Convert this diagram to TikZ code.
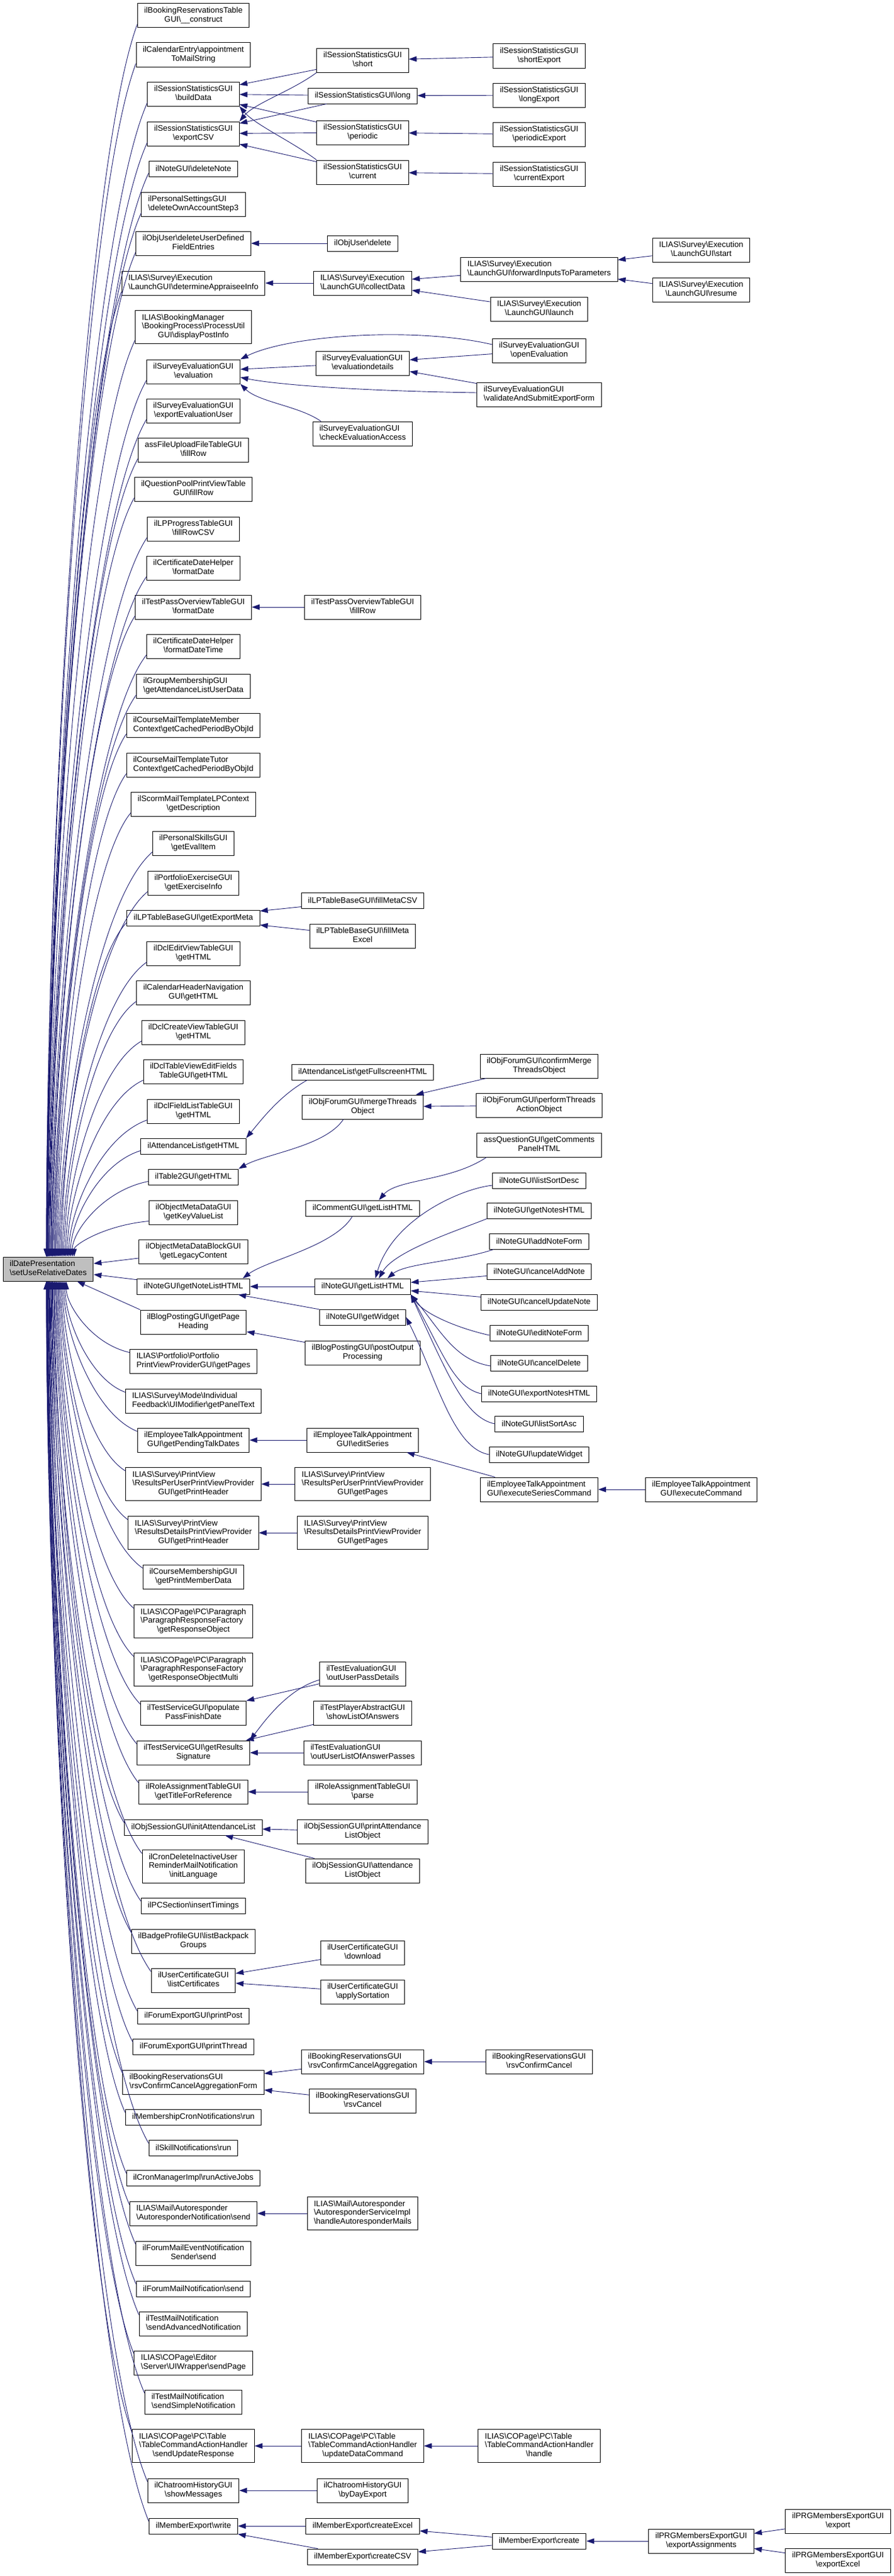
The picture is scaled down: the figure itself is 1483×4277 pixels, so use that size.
\documentclass[tikz,border=0pt]{standalone}
\usepackage{fontspec}
\setmainfont{Liberation Sans}
\usetikzlibrary{arrows.meta,calc}
\definecolor{midnight}{HTML}{191970}
\definecolor{focusgray}{HTML}{BFBFBF}
\newcommand{\bsl}{\textbackslash}
\newcommand{\fnl}[2]{\begin{tabular}{@{}l@{}}#1\\\multicolumn{1}{@{}c@{}}{#2}\end{tabular}}
\begin{document}
\begin{tikzpicture}[x=1pt,y=-1pt,
  fn/.style={draw=black, line width=1pt, fill=white, inner xsep=11pt, inner ysep=5.5pt,
    minimum height=26pt, font=\fontsize{13.3}{14.5}\selectfont},
  call/.style={draw=midnight, line width=0.9pt, -{Triangle[length=13pt,width=9pt]}}]
\fill[white] (0,0) rectangle (1483,4277);
\useasboundingbox (0,0) rectangle (1483,4277);

% the function itself
\node[fn, fill=focusgray] (main) at (80,2107) {\fnl{ilDatePresentation}{\bsl setUseRelativeDates}};

% direct callers
\node[fn] (bookTblConstruct) at (321,26) {\fnl{ilBookingReservationsTable}{GUI\bsl\_\_construct}};
\node[fn] (calApptMail) at (321,91) {\fnl{ilCalendarEntry\bsl appointment}{ToMailString}};
\node[fn] (sessBuild) at (321,156) {\fnl{ilSessionStatisticsGUI}{\bsl buildData}};
\node[fn] (sessExportCsv) at (321,222) {\fnl{ilSessionStatisticsGUI}{\bsl exportCSV}};
\node[fn] (noteDelete) at (321,280) {ilNoteGUI\bsl deleteNote};
\node[fn] (persDelStep3) at (321,339) {\fnl{ilPersonalSettingsGUI}{\bsl deleteOwnAccountStep3}};
\node[fn] (userDelFields) at (321,404) {\fnl{ilObjUser\bsl deleteUserDefined}{FieldEntries}};
\node[fn] (launchAppraisee) at (321,470) {\fnl{ILIAS\bsl Survey\bsl Execution}{\bsl LaunchGUI\bsl determineAppraiseeInfo}};
\node[fn] (bookPostInfo) at (321,543) {\fnl{ILIAS\bsl BookingManager\\\bsl BookingProcess\bsl ProcessUtil}{GUI\bsl displayPostInfo}};
\node[fn] (svyEval) at (321,617) {\fnl{ilSurveyEvaluationGUI}{\bsl evaluation}};
\node[fn] (svyExportUser) at (321,682) {\fnl{ilSurveyEvaluationGUI}{\bsl exportEvaluationUser}};
\node[fn] (assFillRow) at (321,747) {\fnl{assFileUploadFileTableGUI}{\bsl fillRow}};
\node[fn] (qplFillRow) at (321,812) {\fnl{ilQuestionPoolPrintViewTable}{GUI\bsl fillRow}};
\node[fn] (lpFillCsv) at (321,878) {\fnl{ilLPProgressTableGUI}{\bsl fillRowCSV}};
\node[fn] (certFmtDate) at (321,943) {\fnl{ilCertificateDateHelper}{\bsl formatDate}};
\node[fn] (tstFmtDate) at (321,1008) {\fnl{ilTestPassOverviewTableGUI}{\bsl formatDate}};
\node[fn] (certFmtDateTime) at (321,1073) {\fnl{ilCertificateDateHelper}{\bsl formatDateTime}};
\node[fn] (grpAttUser) at (321,1139) {\fnl{ilGroupMembershipGUI}{\bsl getAttendanceListUserData}};
\node[fn] (crsMemberPeriod) at (321,1204) {\fnl{ilCourseMailTemplateMember}{Context\bsl getCachedPeriodByObjId}};
\node[fn] (crsTutorPeriod) at (321,1270) {\fnl{ilCourseMailTemplateTutor}{Context\bsl getCachedPeriodByObjId}};
\node[fn] (scormDescr) at (321,1335) {\fnl{ilScormMailTemplateLPContext}{\bsl getDescription}};
\node[fn] (skillEvalItem) at (321,1400) {\fnl{ilPersonalSkillsGUI}{\bsl getEvalItem}};
\node[fn] (prtfExcInfo) at (321,1466) {\fnl{ilPortfolioExerciseGUI}{\bsl getExerciseInfo}};
\node[fn] (lpExportMeta) at (321,1524) {ilLPTableBaseGUI\bsl getExportMeta};
\node[fn] (dclEditView) at (321,1583) {\fnl{ilDclEditViewTableGUI}{\bsl getHTML}};
\node[fn] (calHeaderNav) at (321,1648) {\fnl{ilCalendarHeaderNavigation}{GUI\bsl getHTML}};
\node[fn] (dclCreateView) at (321,1714) {\fnl{ilDclCreateViewTableGUI}{\bsl getHTML}};
\node[fn] (dclEditFields) at (321,1779) {\fnl{ilDclTableViewEditFields}{TableGUI\bsl getHTML}};
\node[fn] (dclFieldList) at (321,1845) {\fnl{ilDclFieldListTableGUI}{\bsl getHTML}};
\node[fn] (attGetHtml) at (321,1903) {ilAttendanceList\bsl getHTML};
\node[fn] (tbl2GetHtml) at (321,1954) {ilTable2GUI\bsl getHTML};
\node[fn] (mdKeyValue) at (321,2013) {\fnl{ilObjectMetaDataGUI}{\bsl getKeyValueList}};
\node[fn] (mdLegacy) at (321,2078) {\fnl{ilObjectMetaDataBlockGUI}{\bsl getLegacyContent}};
\node[fn] (noteListHtml) at (321,2136) {ilNoteGUI\bsl getNoteListHTML};
\node[fn] (blogPageHead) at (321,2195) {\fnl{ilBlogPostingGUI\bsl getPage}{Heading}};
\node[fn] (prtfPages) at (321,2260) {\fnl{ILIAS\bsl Portfolio\bsl Portfolio}{PrintViewProviderGUI\bsl getPages}};
\node[fn] (svyPanelText) at (321,2326) {\fnl{ILIAS\bsl Survey\bsl Mode\bsl Individual}{Feedback\bsl UIModifier\bsl getPanelText}};
\node[fn] (etalkPending) at (321,2391) {\fnl{ilEmployeeTalkAppointment}{GUI\bsl getPendingTalkDates}};
\node[fn] (svyUserHeader) at (321,2464) {\fnl{ILIAS\bsl Survey\bsl PrintView\\\bsl ResultsPerUserPrintViewProvider}{GUI\bsl getPrintHeader}};
\node[fn] (svyDetHeader) at (321,2545) {\fnl{ILIAS\bsl Survey\bsl PrintView\\\bsl ResultsDetailsPrintViewProvider}{GUI\bsl getPrintHeader}};
\node[fn] (crsPrintMember) at (321,2618) {\fnl{ilCourseMembershipGUI}{\bsl getPrintMemberData}};
\node[fn] (parRespObj) at (321,2692) {\fnl{ILIAS\bsl COPage\bsl PC\bsl Paragraph\\\bsl ParagraphResponseFactory}{\bsl getResponseObject}};
\node[fn] (parRespMulti) at (321,2772) {\fnl{ILIAS\bsl COPage\bsl PC\bsl Paragraph\\\bsl ParagraphResponseFactory}{\bsl getResponseObjectMulti}};
\node[fn] (tstPassFinish) at (321,2844) {\fnl{ilTestServiceGUI\bsl populate}{PassFinishDate}};
\node[fn] (tstSignature) at (321,2910) {\fnl{ilTestServiceGUI\bsl getResults}{Signature}};
\node[fn] (roleTitleRef) at (321,2975) {\fnl{ilRoleAssignmentTableGUI}{\bsl getTitleForReference}};
\node[fn] (sessInitAtt) at (321,3034) {ilObjSessionGUI\bsl initAttendanceList};
\node[fn] (cronInitLang) at (321,3099) {\fnl{ilCronDeleteInactiveUser\\ReminderMailNotification}{\bsl initLanguage}};
\node[fn] (pcTimings) at (321,3164) {ilPCSection\bsl insertTimings};
\node[fn] (badgeGroups) at (321,3223) {\fnl{ilBadgeProfileGUI\bsl listBackpack}{Groups}};
\node[fn] (certList) at (321,3288) {\fnl{ilUserCertificateGUI}{\bsl listCertificates}};
\node[fn] (frmPrintPost) at (321,3347) {ilForumExportGUI\bsl printPost};
\node[fn] (frmPrintThread) at (321,3398) {ilForumExportGUI\bsl printThread};
\node[fn] (rsvAggrForm) at (321,3457) {\fnl{ilBookingReservationsGUI}{\bsl rsvConfirmCancelAggregationForm}};
\node[fn] (memCronRun) at (321,3515) {ilMembershipCronNotifications\bsl run};
\node[fn] (skillNotifRun) at (321,3566) {ilSkillNotifications\bsl run};
\node[fn] (cronRunJobs) at (321,3616) {ilCronManagerImpl\bsl runActiveJobs};
\node[fn] (autoNotifSend) at (321,3675) {\fnl{ILIAS\bsl Mail\bsl Autoresponder}{\bsl AutoresponderNotification\bsl send}};
\node[fn] (frmEventSend) at (321,3741) {\fnl{ilForumMailEventNotification}{Sender\bsl send}};
\node[fn] (frmMailSend) at (321,3800) {ilForumMailNotification\bsl send};
\node[fn] (tstAdvNotif) at (321,3858) {\fnl{ilTestMailNotification}{\bsl sendAdvancedNotification}};
\node[fn] (copSendPage) at (321,3923) {\fnl{ILIAS\bsl COPage\bsl Editor}{\bsl Server\bsl UIWrapper\bsl sendPage}};
\node[fn] (tstSimpleNotif) at (321,3988) {\fnl{ilTestMailNotification}{\bsl sendSimpleNotification}};
\node[fn] (tblUpdResp) at (321,4061) {\fnl{ILIAS\bsl COPage\bsl PC\bsl Table\\\bsl TableCommandActionHandler}{\bsl sendUpdateResponse}};
\node[fn] (chatShowMsg) at (321,4135) {\fnl{ilChatroomHistoryGUI}{\bsl showMessages}};
\node[fn] (memWrite) at (321,4194) {ilMemberExport\bsl write};

% second level
\node[fn] (sessShort) at (602,100) {\fnl{ilSessionStatisticsGUI}{\bsl short}};
\node[fn] (sessLong) at (602,159) {ilSessionStatisticsGUI\bsl long};
\node[fn] (sessPeriodic) at (602,220) {\fnl{ilSessionStatisticsGUI}{\bsl periodic}};
\node[fn] (sessCurrent) at (602,286) {\fnl{ilSessionStatisticsGUI}{\bsl current}};
\node[fn] (userDelete) at (602,404) {ilObjUser\bsl delete};
\node[fn] (launchCollect) at (602,470) {\fnl{ILIAS\bsl Survey\bsl Execution}{\bsl LaunchGUI\bsl collectData}};
\node[fn] (svyEvalDetails) at (602,603) {\fnl{ilSurveyEvaluationGUI}{\bsl evaluationdetails}};
\node[fn] (svyCheckAccess) at (602,720) {\fnl{ilSurveyEvaluationGUI}{\bsl checkEvaluationAccess}};
\node[fn] (tstFillRow) at (602,1008) {\fnl{ilTestPassOverviewTableGUI}{\bsl fillRow}};
\node[fn] (lpMetaCsv) at (602,1495) {ilLPTableBaseGUI\bsl fillMetaCSV};
\node[fn] (lpMetaExcel) at (602,1554) {\fnl{ilLPTableBaseGUI\bsl fillMeta}{Excel}};
\node[fn] (attFullscreen) at (602,1780) {ilAttendanceList\bsl getFullscreenHTML};
\node[fn] (frmMerge) at (602,1838) {\fnl{ilObjForumGUI\bsl mergeThreads}{Object}};
\node[fn] (commentList) at (602,2006) {ilCommentGUI\bsl getListHTML};
\node[fn] (noteGetList) at (602,2136) {ilNoteGUI\bsl getListHTML};
\node[fn] (noteWidget) at (602,2187) {ilNoteGUI\bsl getWidget};
\node[fn] (blogPostOut) at (602,2246) {\fnl{ilBlogPostingGUI\bsl postOutput}{Processing}};
\node[fn] (etalkEditSeries) at (602,2391) {\fnl{ilEmployeeTalkAppointment}{GUI\bsl editSeries}};
\node[fn] (svyUserPages) at (602,2464) {\fnl{ILIAS\bsl Survey\bsl PrintView\\\bsl ResultsPerUserPrintViewProvider}{GUI\bsl getPages}};
\node[fn] (svyDetPages) at (602,2545) {\fnl{ILIAS\bsl Survey\bsl PrintView\\\bsl ResultsDetailsPrintViewProvider}{GUI\bsl getPages}};
\node[fn] (tstUserPass) at (602,2779) {\fnl{ilTestEvaluationGUI}{\bsl outUserPassDetails}};
\node[fn] (tstShowAnswers) at (602,2844) {\fnl{ilTestPlayerAbstractGUI}{\bsl showListOfAnswers}};
\node[fn] (tstAnswerPasses) at (602,2910) {\fnl{ilTestEvaluationGUI}{\bsl outUserListOfAnswerPasses}};
\node[fn] (roleParse) at (602,2975) {\fnl{ilRoleAssignmentTableGUI}{\bsl parse}};
\node[fn] (sessPrintAtt) at (602,3041) {\fnl{ilObjSessionGUI\bsl printAttendance}{ListObject}};
\node[fn] (sessAttObj) at (602,3106) {\fnl{ilObjSessionGUI\bsl attendance}{ListObject}};
\node[fn] (certDownload) at (602,3242) {\fnl{ilUserCertificateGUI}{\bsl download}};
\node[fn] (certSort) at (602,3307) {\fnl{ilUserCertificateGUI}{\bsl applySortation}};
\node[fn] (rsvCancelAggr) at (602,3423) {\fnl{ilBookingReservationsGUI}{\bsl rsvConfirmCancelAggregation}};
\node[fn] (rsvCancel) at (602,3488) {\fnl{ilBookingReservationsGUI}{\bsl rsvCancel}};
\node[fn] (autoHandle) at (602,3675) {\fnl{ILIAS\bsl Mail\bsl Autoresponder\\\bsl AutoresponderServiceImpl}{\bsl handleAutoresponderMails}};
\node[fn] (tblUpdData) at (602,4061) {\fnl{ILIAS\bsl COPage\bsl PC\bsl Table\\\bsl TableCommandActionHandler}{\bsl updateDataCommand}};
\node[fn] (chatByDay) at (602,4135) {\fnl{ilChatroomHistoryGUI}{\bsl byDayExport}};
\node[fn] (memCreateExcel) at (602,4194) {ilMemberExport\bsl createExcel};
\node[fn] (memCreateCsv) at (602,4245) {ilMemberExport\bsl createCSV};

% third level
\node[fn] (sessShortExp) at (895,93) {\fnl{ilSessionStatisticsGUI}{\bsl shortExport}};
\node[fn] (sessLongExp) at (895,158) {\fnl{ilSessionStatisticsGUI}{\bsl longExport}};
\node[fn] (sessPeriodicExp) at (895,223) {\fnl{ilSessionStatisticsGUI}{\bsl periodicExport}};
\node[fn] (sessCurrentExp) at (895,289) {\fnl{ilSessionStatisticsGUI}{\bsl currentExport}};
\node[fn] (launchForward) at (895,447) {\fnl{ILIAS\bsl Survey\bsl Execution}{\bsl LaunchGUI\bsl forwardInputsToParameters}};
\node[fn] (launchLaunch) at (895,513) {\fnl{ILIAS\bsl Survey\bsl Execution}{\bsl LaunchGUI\bsl launch}};
\node[fn] (svyOpenEval) at (895,582) {\fnl{ilSurveyEvaluationGUI}{\bsl openEvaluation}};
\node[fn] (svyValidate) at (895,655) {\fnl{ilSurveyEvaluationGUI}{\bsl validateAndSubmitExportForm}};
\node[fn] (frmConfirmMerge) at (895,1770) {\fnl{ilObjForumGUI\bsl confirmMerge}{ThreadsObject}};
\node[fn] (frmPerform) at (895,1835) {\fnl{ilObjForumGUI\bsl performThreads}{ActionObject}};
\node[fn] (assComments) at (895,1901) {\fnl{assQuestionGUI\bsl getComments}{PanelHTML}};
\node[fn] (noteSortDesc) at (895,1960) {ilNoteGUI\bsl listSortDesc};
\node[fn] (noteNotesHtml) at (895,2010) {ilNoteGUI\bsl getNotesHTML};
\node[fn] (noteAddForm) at (895,2061) {ilNoteGUI\bsl addNoteForm};
\node[fn] (noteCancelAdd) at (895,2111) {ilNoteGUI\bsl cancelAddNote};
\node[fn] (noteCancelUpd) at (895,2162) {ilNoteGUI\bsl cancelUpdateNote};
\node[fn] (noteEditForm) at (895,2213) {ilNoteGUI\bsl editNoteForm};
\node[fn] (noteCancelDel) at (895,2263) {ilNoteGUI\bsl cancelDelete};
\node[fn] (noteExport) at (895,2314) {ilNoteGUI\bsl exportNotesHTML};
\node[fn] (noteSortAsc) at (895,2364) {ilNoteGUI\bsl listSortAsc};
\node[fn] (noteUpdWidget) at (895,2415) {ilNoteGUI\bsl updateWidget};
\node[fn] (etalkExecSeries) at (895,2473) {\fnl{ilEmployeeTalkAppointment}{GUI\bsl executeSeriesCommand}};
\node[fn] (rsvConfirmCancel) at (895,3423) {\fnl{ilBookingReservationsGUI}{\bsl rsvConfirmCancel}};
\node[fn] (tblHandle) at (895,4061) {\fnl{ILIAS\bsl COPage\bsl PC\bsl Table\\\bsl TableCommandActionHandler}{\bsl handle}};
\node[fn] (memCreate) at (895,4219) {ilMemberExport\bsl create};

% fourth and fifth level
\node[fn] (launchStart) at (1164,415) {\fnl{ILIAS\bsl Survey\bsl Execution}{\bsl LaunchGUI\bsl start}};
\node[fn] (launchResume) at (1164,481) {\fnl{ILIAS\bsl Survey\bsl Execution}{\bsl LaunchGUI\bsl resume}};
\node[fn] (etalkExec) at (1164,2473) {\fnl{ilEmployeeTalkAppointment}{GUI\bsl executeCommand}};
\node[fn] (prgExportAssign) at (1164,4219) {\fnl{ilPRGMembersExportGUI}{\bsl exportAssignments}};
\node[fn] (prgExport) at (1391,4186) {\fnl{ilPRGMembersExportGUI}{\bsl export}};
\node[fn] (prgExportExcel) at (1391,4251) {\fnl{ilPRGMembersExportGUI}{\bsl exportExcel}};

% callers above the function
\foreach \nd [count=\i] in {bookTblConstruct, calApptMail, sessBuild, sessExportCsv, noteDelete,
    persDelStep3, userDelFields, launchAppraisee, bookPostInfo, svyEval, svyExportUser, assFillRow,
    qplFillRow, lpFillCsv, certFmtDate, tstFmtDate, certFmtDateTime, grpAttUser, crsMemberPeriod,
    crsTutorPeriod, scormDescr, skillEvalItem, prtfExcInfo, lpExportMeta, dclEditView, calHeaderNav,
    dclCreateView, dclEditFields, dclFieldList, attGetHtml, tbl2GetHtml, mdKeyValue} {
  \pgfmathsetmacro\off{46*((\i-1)/31)^2-3}
  \draw[call] let \p1=([yshift=6pt]\nd.south west), \p2=([xshift=\off pt]main.north) in
    (\p1) .. controls ({\x1+0.6*(\x2-\x1)},{\y1+0.12*(\y2-\y1)}) and (\x2,{\y2+0.33*(\y1-\y2)}) .. (\p2);
}
% callers below the function
\foreach \nd [count=\i] in {prtfPages, svyPanelText, etalkPending, svyUserHeader, svyDetHeader,
    crsPrintMember, parRespObj, parRespMulti, tstPassFinish, tstSignature, roleTitleRef, sessInitAtt,
    cronInitLang, pcTimings, badgeGroups, certList, frmPrintPost, frmPrintThread, rsvAggrForm,
    memCronRun, skillNotifRun, cronRunJobs, autoNotifSend, frmEventSend, frmMailSend, tstAdvNotif,
    copSendPage, tstSimpleNotif, tblUpdResp, chatShowMsg, memWrite} {
  \pgfmathsetmacro\off{33*((31-\i)/30)^2-3}
  \draw[call] let \p1=([yshift=-6pt]\nd.north west), \p2=([xshift=\off pt]main.south) in
    (\p1) .. controls ({\x1+0.6*(\x2-\x1)},{\y1+0.12*(\y2-\y1)}) and (\x2,{\y2+0.33*(\y1-\y2)}) .. (\p2);
}
\draw[call] (mdLegacy) -- (main);
\draw[call] (noteListHtml) -- (main);
\draw[call] (blogPageHead.north west) -- ([xshift=48pt]main.south);

% session statistics
\draw[call] (sessShortExp) -- (sessShort);
\draw[call] (sessLongExp) -- (sessLong);
\draw[call] (sessPeriodicExp) -- (sessPeriodic);
\draw[call] (sessCurrentExp) -- (sessCurrent);
\draw[call] (sessShort) -- (sessBuild);
\draw[call] (sessShort.south west) .. controls +(-40,30) and +(25,-30) .. (sessExportCsv.north east);
\draw[call] (sessLong) -- (sessBuild);
\draw[call] (sessLong) -- (sessExportCsv);
\draw[call] (sessPeriodic) -- (sessBuild);
\draw[call] (sessPeriodic) -- (sessExportCsv);
\draw[call] (sessCurrent.north west) .. controls +(-40,-30) and +(25,30) .. (sessBuild.south east);
\draw[call] (sessCurrent) -- (sessExportCsv);

% survey
\draw[call] (userDelete) -- (userDelFields);
\draw[call] (launchCollect) -- (launchAppraisee);
\draw[call] (launchForward) -- (launchCollect);
\draw[call] (launchLaunch) -- (launchCollect);
\draw[call] (launchStart) -- (launchForward);
\draw[call] (launchResume) -- (launchForward);
\draw[call] ([yshift=10pt]svyOpenEval.west) .. controls +(-130,-30) and +(80,-40) .. (svyEval.north east);
\draw[call] (svyOpenEval) -- (svyEvalDetails);
\draw[call] (svyEvalDetails) -- (svyEval);
\draw[call] (svyValidate) -- (svyEvalDetails);
\draw[call] ([yshift=3pt]svyValidate.west) .. controls +(-200,-3) and +(60,12) .. (svyEval.-7);
\draw[call] ([xshift=14pt]svyCheckAccess.north west) .. controls +(-35,-25) and +(30,30) .. (svyEval.south east);

\draw[call] (tstFillRow) -- (tstFmtDate);
\draw[call] (lpMetaCsv) -- (lpExportMeta);
\draw[call] (lpMetaExcel) -- (lpExportMeta);

% forum, comments and notes
\draw[call] ([xshift=26pt]attFullscreen.south west) .. controls +(-45,25) and +(25,-30) .. (attGetHtml.north east);
\draw[call] (frmConfirmMerge) -- (frmMerge);
\draw[call] (frmPerform) -- (frmMerge);
\draw[call] ([xshift=-32pt]frmMerge.south) .. controls +(-30,45) and +(45,-25) .. (tbl2GetHtml.north east);
\draw[call] ([xshift=16pt]assComments.south west) .. controls +(-60,40) and +(30,-35) .. ([xshift=27pt]commentList.north);
\draw[call] ([xshift=-17pt]commentList.south) .. controls +(-30,50) and +(40,-30) .. ([xshift=-12pt]noteListHtml.north east);
\draw[call] ([yshift=-8pt]noteSortDesc.west) .. controls +(-50,5) and +(30,-100) .. ([xshift=21pt]noteGetList.north);
\draw[call] (noteNotesHtml.south west) .. controls +(-50,20) and +(25,-45) .. ([xshift=27pt]noteGetList.north);
\draw[call] ([xshift=7pt]noteAddForm.south west) .. controls +(-60,20) and +(30,-25) .. ([xshift=41pt]noteGetList.north);
\draw[call] (noteCancelAdd) -- (noteGetList);
\draw[call] (noteGetList) -- (noteListHtml);
\draw[call] (noteCancelUpd) -- (noteGetList);
\draw[call] ([yshift=-4pt]noteEditForm.west) .. controls +(-45,-10) and +(25,35) .. (noteGetList.south east);
\draw[call] ([yshift=-5pt]noteCancelDel.west) .. controls +(-60,-10) and +(50,60) .. (noteGetList.south east);
\draw[call] (noteExport.west) .. controls +(-45,-10) and +(55,100) .. (noteGetList.south east);
\draw[call] (noteSortAsc.west) .. controls +(-50,-10) and +(60,130) .. (noteGetList.south east);
\draw[call] (noteUpdWidget.west) .. controls +(-60,-10) and +(50,100) .. (noteWidget.east);
\draw[call] (noteWidget) -- (noteListHtml);
\draw[call] (blogPostOut) -- (blogPageHead);

% talks, print views, tests
\draw[call] (etalkEditSeries) -- (etalkPending);
\draw[call] (etalkExecSeries) -- (etalkEditSeries);
\draw[call] (etalkExec) -- (etalkExecSeries);
\draw[call] (svyUserPages) -- (svyUserHeader);
\draw[call] (svyDetPages) -- (svyDetHeader);
\draw[call] (tstUserPass) -- (tstPassFinish);
\draw[call] ([yshift=-10pt]tstUserPass.west) .. controls +(-50,15) and +(30,-40) .. (tstSignature.north east);
\draw[call] (tstShowAnswers) -- (tstSignature);
\draw[call] (tstAnswerPasses) -- (tstSignature);
\draw[call] (roleParse) -- (roleTitleRef);
\draw[call] (sessPrintAtt) -- (sessInitAtt);
\draw[call] (sessAttObj) -- (sessInitAtt);
\draw[call] (certDownload) -- (certList);
\draw[call] (certSort) -- (certList);
\draw[call] (rsvConfirmCancel) -- (rsvCancelAggr);
\draw[call] (rsvCancelAggr) -- (rsvAggrForm);
\draw[call] (rsvCancel) -- (rsvAggrForm);
\draw[call] (autoHandle) -- (autoNotifSend);
\draw[call] (tblHandle) -- (tblUpdData);
\draw[call] (tblUpdData) -- (tblUpdResp);
\draw[call] (chatByDay) -- (chatShowMsg);

% member export
\draw[call] (memCreateExcel) -- (memWrite);
\draw[call] (memCreateCsv) -- (memWrite);
\draw[call] (memCreate) -- (memCreateExcel);
\draw[call] (memCreate) -- (memCreateCsv);
\draw[call] (prgExportAssign) -- (memCreate);
\draw[call] (prgExport) -- (prgExportAssign);
\draw[call] (prgExportExcel) -- (prgExportAssign);
\end{tikzpicture}
\end{document}
